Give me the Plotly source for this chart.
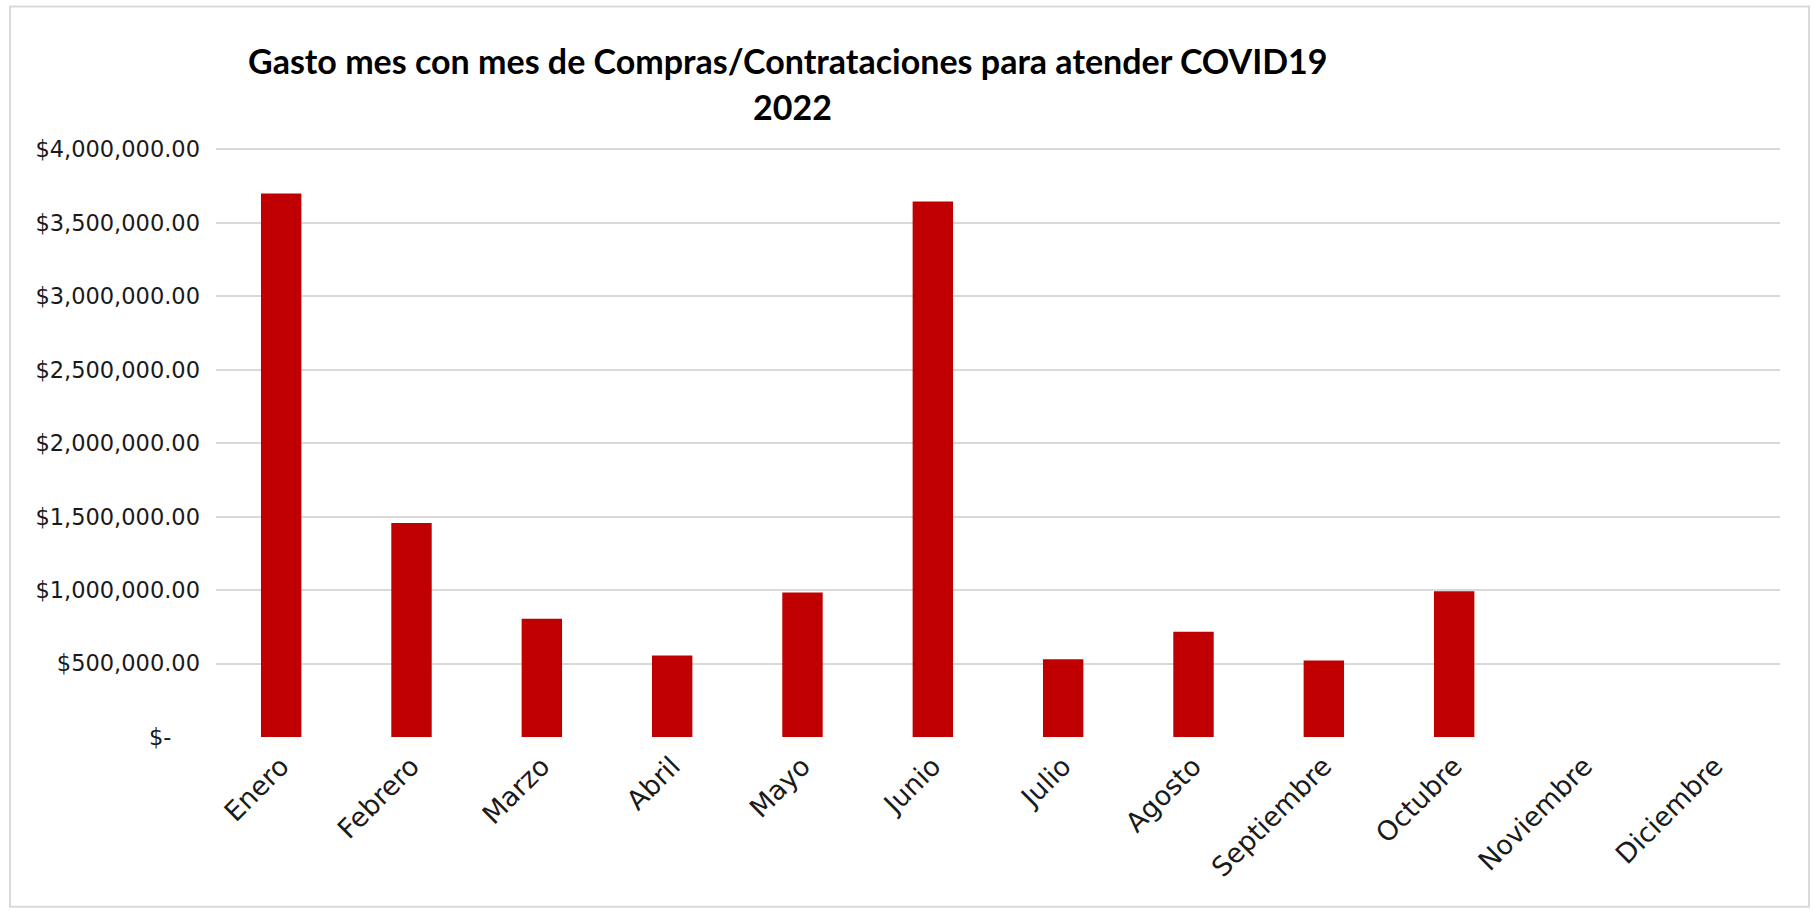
import plotly.graph_objects as go

# ---- data ----
months = ["Enero", "Febrero", "Marzo", "Abril", "Mayo", "Junio", "Julio",
          "Agosto", "Septiembre", "Octubre", "Noviembre", "Diciembre"]
gasto = [3700000, 1457000, 805000, 555000, 984000, 3645000, 529500,
         717000, 520000, 993000, 0, 0]
y_tick_vals = [0, 500000, 1000000, 1500000, 2000000, 2500000, 3000000, 3500000, 4000000]
y_tick_text = ["$-\u00a0\u00a0\u00a0\u00a0", "$500,000.00", "$1,000,000.00", "$1,500,000.00",
               "$2,000,000.00", "$2,500,000.00", "$3,000,000.00", "$3,500,000.00",
               "$4,000,000.00"]
title_line1 = "Gasto mes con mes de Compras/Contrataciones para atender COVID19"
title_line2 = "2022"

# ---- layout geometry (page pixels) ----
W, H = 1819, 911
Y_ZERO, Y_TOPTICK = 737, 149          # pixel rows of 0 and 4,000,000
X_LEFT, X_RIGHT = 216, 1780
Y_MAX = 4010000                        # a hair above the top tick so its gridline shows
px_per_unit = (Y_ZERO - Y_TOPTICK) / 4000000
T = Y_ZERO - Y_MAX * px_per_unit
B = H - Y_ZERO
L, R = X_LEFT, W - X_RIGHT
pw, ph = W - L - R, H - T - B


def px_x(x):
    return (x - L) / pw


def px_y(y):
    return (Y_ZERO - y) / ph


fig = go.Figure()
fig.add_trace(go.Bar(
    x=months, y=gasto,
    marker=dict(color="#c00000", line=dict(width=0)),
    hoverinfo="x+y",
))

fig.update_layout(
    width=W, height=H,
    margin=dict(l=L, r=R, t=T, b=B, pad=0),
    paper_bgcolor="white", plot_bgcolor="white",
    bargap=0.69,
    showlegend=False,
    font=dict(family="DejaVu Sans", color="#1a1a1a"),
    xaxis=dict(
        showgrid=False, showline=False, zeroline=False,
        tickangle=-45, ticks="",
        tickfont=dict(family="DejaVu Sans", size=27, color="#1a1a1a"),
        ticklabelstandoff=7,
    ),
    yaxis=dict(
        range=[0, Y_MAX],
        tickvals=y_tick_vals, ticktext=y_tick_text,
        showgrid=True, gridcolor="#d9d9d9", gridwidth=2,
        zeroline=False, showline=False, ticks="",
        tickfont=dict(family="DejaVu Sans", size=22.5, color="#1a1a1a"),
        ticklabelstandoff=15,
    ),
    annotations=[
        dict(text="<b>" + title_line1 + "</b>", xref="paper", yref="paper",
             x=px_x(788), y=px_y(59.5), xanchor="center", yanchor="middle",
             showarrow=False, font=dict(family="Lato", size=34, color="black")),
        dict(text="<b>" + title_line2 + "</b>", xref="paper", yref="paper",
             x=px_x(792), y=px_y(105.5), xanchor="center", yanchor="middle",
             showarrow=False, font=dict(family="Lato", size=34, color="black")),
    ],
    shapes=[
        dict(type="rect", xref="paper", yref="paper",
             x0=px_x(10), x1=px_x(1809), y0=px_y(907), y1=px_y(6),
             line=dict(color="#d9d9d9", width=2), fillcolor="rgba(0,0,0,0)",
             layer="below"),
    ],
)

fig.write_html("out.html",
               config={"displayModeBar": False},
               post_script="document.body.style.margin='0';document.body.style.overflow='hidden';")
